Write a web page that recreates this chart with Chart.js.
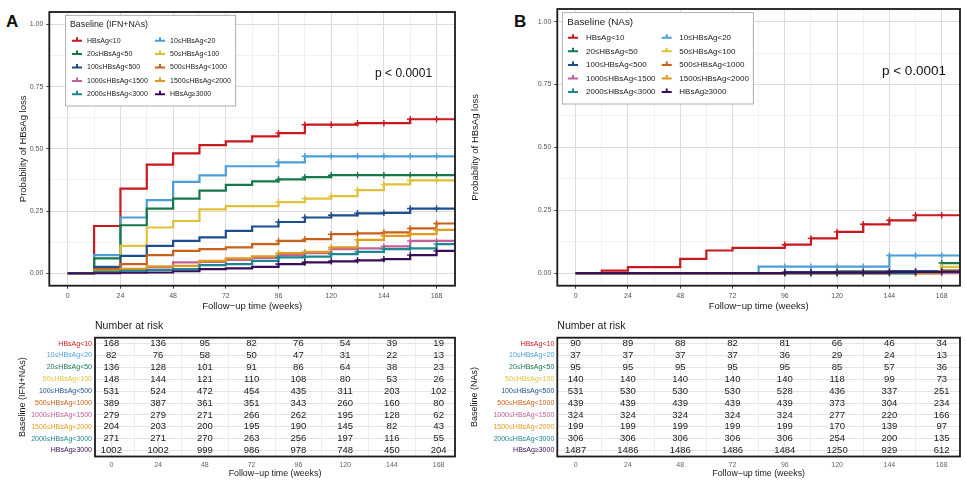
<!DOCTYPE html>
<html>
<head>
<meta charset="utf-8">
<script src="https://cdn.jsdelivr.net/npm/chart.js@4.4.0/dist/chart.umd.min.js"></script>
<style>
  body { margin: 0; background: #fff; width: 966px; height: 493px; position: relative; overflow: hidden;
         font-family: "Liberation Sans", Arial, sans-serif; }
  canvas { position: absolute; }
  .tag { position: absolute; font-weight: bold; font-size: 17px; color: #111; line-height: 20px; }
</style>
</head>
<body>
<div class="tag" style="left:6px;top:12px">A</div>
<div class="tag" style="left:514px;top:12px">B</div>
<canvas id="kmA" width="480" height="318" style="left:0;top:0"></canvas>
<canvas id="kmB" width="500" height="318" style="left:466px;top:0"></canvas>
<canvas id="riskA" width="480" height="181" style="left:0;top:312px"></canvas>
<canvas id="riskB" width="500" height="181" style="left:466px;top:312px"></canvas>
<script>
// groups (baseline HBsAg strata)
const groups = ['HBsAg<10', '10≤HBsAg<20', '20≤HBsAg<50', '50≤HBsAg<100', '100≤HBsAg<500',
  '500≤HBsAg<1000', '1000≤HBsAg<1500', '1500≤HBsAg<2000', '2000≤HBsAg<3000', 'HBsAg≥3000'];
// visit weeks where the curves can step
const weeks = [0, 12, 24, 36, 48, 60, 72, 84, 96, 108, 120, 132, 144, 156, 168];
const censorWeeks = [96, 108, 120, 132, 144, 156, 168];
const riskWeeks = [0, 24, 48, 72, 96, 120, 144, 168];
const probTicks = [0, 0.125, 0.25, 0.375, 0.5, 0.625, 0.75, 0.875, 1];

// cumulative probability of HBsAg loss at each week, IFN+NAs
const lossIFN = [
  [0, .19, .34, .437, .482, .515, .53, .55, .563, .597, .597, .603, .603, .619, .619],
  [0, .073, .224, .294, .367, .393, .43, .43, .446, .47, .47, .47, .47, .47, .47],
  [0, .06, .193, .26, .30, .332, .355, .369, .377, .386, .394, .394, .394, .394, .394],
  [0, .022, .11, .184, .21, .257, .27, .27, .286, .30, .31, .334, .357, .373, .373],
  [0, .026, .07, .11, .13, .144, .17, .188, .206, .224, .233, .241, .243, .26, .26],
  [0, .017, .037, .073, .09, .097, .104, .117, .13, .137, .157, .16, .164, .18, .2],
  [0, .005, .018, .024, .044, .046, .054, .062, .073, .081, .097, .1, .108, .13, .13],
  [0, .01, .017, .028, .03, .05, .06, .068, .081, .086, .104, .134, .15, .157, .174],
  [0, .006, .01, .013, .017, .033, .037, .05, .064, .067, .077, .086, .097, .1, .117],
  [0, 0, .002, .003, .008, .017, .02, .026, .037, .044, .048, .052, .057, .073, .09]
];
// NAs only
const lossNA = [
  [0, .01, .024, .024, .057, .09, .1, .1, .113, .138, .164, .194, .21, .23, .23],
  [0, 0, 0, 0, 0, 0, 0, .026, .026, .026, .026, .026, .07, .07, .07],
  [0, 0, 0, 0, 0, 0, 0, 0, 0, 0, 0, 0, 0, 0, .04],
  [0, 0, 0, 0, 0, 0, 0, 0, 0, 0, .008, .008, .008, .008, .025],
  [0, 0, 0, 0, 0, 0, 0, 0, .004, .004, .006, .006, .008, .008, .01],
  [0, 0, 0, 0, 0, 0, 0, 0, 0, 0, 0, 0, .002, .002, .002],
  [0, 0, 0, 0, 0, 0, 0, 0, 0, 0, 0, 0, 0, 0, 0],
  [0, 0, 0, 0, 0, 0, 0, 0, 0, 0, 0, 0, 0, 0, .01],
  [0, 0, 0, 0, 0, 0, 0, 0, 0, 0, 0, 0, 0, .005, .005],
  [0, 0, 0, 0, 0, 0, 0, 0, .002, .002, .002, .002, .004, .004, .006]
];

// number at risk
const riskIFN = [
  [168, 136, 95, 82, 76, 54, 39, 19],
  [82, 76, 58, 50, 47, 31, 22, 13],
  [136, 128, 101, 91, 86, 64, 38, 23],
  [148, 144, 121, 110, 108, 80, 53, 26],
  [531, 524, 472, 454, 435, 311, 203, 102],
  [389, 387, 361, 351, 343, 260, 160, 80],
  [279, 279, 271, 266, 262, 195, 128, 62],
  [204, 203, 200, 195, 190, 145, 82, 43],
  [271, 271, 270, 263, 256, 197, 116, 55],
  [1002, 1002, 999, 986, 978, 748, 450, 204]
];
const riskNA = [
  [90, 89, 88, 82, 81, 66, 46, 34],
  [37, 37, 37, 37, 36, 29, 24, 13],
  [95, 95, 95, 95, 95, 85, 57, 36],
  [140, 140, 140, 140, 140, 118, 99, 73],
  [531, 530, 530, 530, 528, 436, 337, 251],
  [439, 439, 439, 439, 439, 373, 304, 234],
  [324, 324, 324, 324, 324, 277, 220, 166],
  [199, 199, 199, 199, 199, 170, 139, 97],
  [306, 306, 306, 306, 306, 254, 200, 135],
  [1487, 1486, 1486, 1486, 1484, 1250, 929, 612]
];

const palette = ['#C8191E', '#4C9ED6', '#17784A', '#E2C13A', '#1D4F8E',
  '#C9611C', '#C2609A', '#E09A1E', '#1D8790', '#3A0E5A'];
const FONT = '"Liberation Sans", Arial, sans-serif';
const X_MIN = -8.4, X_MAX = 176.4;
Chart.defaults.font.family = FONT;
Chart.defaults.animation = false;

// thick black frame round the panel
const framePlugin = {
  id: 'frame',
  afterDraw(chart) {
    const a = chart.chartArea, c = chart.ctx;
    c.save();
    c.strokeStyle = '#1a1a1a';
    c.lineWidth = 1.8;
    c.strokeRect(a.left, a.top, a.right - a.left, a.bottom - a.top);
    c.restore();
  }
};

// two column legend in a box inside the panel
const boxLegend = {
  id: 'boxLegend',
  afterDatasetsDraw(chart, args, o) {
    if (!o || !o.title) return;
    const c = chart.ctx, a = chart.chartArea;
    const x0 = a.left + o.dx, y0 = a.top + o.dy;
    c.save();
    c.fillStyle = '#fff';
    c.fillRect(x0, y0, o.w, o.h);
    c.strokeStyle = '#9a9a9a';
    c.lineWidth = 0.8;
    c.strokeRect(x0, y0, o.w, o.h);
    c.fillStyle = '#1a1a1a';
    c.textBaseline = 'middle';
    c.font = o.titleSize + 'px ' + FONT;
    c.fillText(o.title, x0 + o.titleX, y0 + o.titleY);
    c.font = o.itemSize + 'px ' + FONT;
    groups.forEach((g, i) => {
      const col = i % 2, row = Math.floor(i / 2);
      const kx = x0 + o.keyX[col], ky = y0 + o.rowY + row * o.rowStep;
      c.strokeStyle = palette[i];
      c.lineWidth = 2;
      c.beginPath();
      c.moveTo(kx, ky); c.lineTo(kx + 10, ky);
      c.moveTo(kx + 5, ky - 3.5); c.lineTo(kx + 5, ky + 1);
      c.stroke();
      c.fillStyle = '#1a1a1a';
      c.fillText(g, x0 + o.textX[col], ky);
    });
    c.restore();
  }
};

// p-value text
const pLabel = {
  id: 'pLabel',
  afterDatasetsDraw(chart, args, o) {
    if (!o || !o.text) return;
    const a = chart.chartArea, c = chart.ctx;
    c.save();
    c.font = o.size + 'px ' + FONT;
    c.fillStyle = '#111';
    c.textBaseline = 'middle';
    c.fillText(o.text, a.left + o.fx * (a.right - a.left), a.top + o.fy * (a.bottom - a.top));
    c.restore();
  }
};

// numbers of the at-risk table + its heading
const riskText = {
  id: 'riskText',
  afterDatasetsDraw(chart) {
    const c = chart.ctx, a = chart.chartArea;
    c.save();
    c.font = '9.5px ' + FONT;
    c.fillStyle = '#1a1a1a';
    c.textAlign = 'center';
    c.textBaseline = 'middle';
    chart.data.datasets.forEach((ds, i) => {
      chart.getDatasetMeta(i).data.forEach((pt, j) => c.fillText(String(ds.data[j].n), pt.x, pt.y));
    });
    c.font = '10.5px ' + FONT;
    c.textAlign = 'left';
    c.fillText('Number at risk', a.left, a.top - 11.5);
    c.restore();
  }
};

const isMajorX = ctx => ctx.tick && ctx.tick.value % 24 === 0;
const isMajorY = ctx => ctx.tick && (ctx.tick.value * 4) % 1 === 0;

function kmChart(id, loss, pad, yWidth, yTitlePad, legend, pText) {
  const datasets = [];
  loss.forEach((vals, i) => {
    const pts = weeks.map((w, k) => ({ x: w, y: vals[k] }));
    pts.push({ x: X_MAX, y: vals[vals.length - 1] });
    datasets.push({
      label: groups[i], data: pts, stepped: 'before', borderColor: palette[i],
      borderWidth: 2.2, pointRadius: 0, fill: false, order: 40 - 2 * i
    });
    datasets.push({
      label: groups[i] + ' (censored)', showLine: false, pointStyle: 'cross', pointRadius: 3.2,
      borderColor: palette[i], borderWidth: 1.4, order: 39 - 2 * i,
      data: censorWeeks.map(w => ({ x: w, y: vals[weeks.indexOf(w)] }))
    });
  });
  return new Chart(document.getElementById(id), {
    type: 'line',
    data: { datasets },
    plugins: [framePlugin, boxLegend, pLabel],
    options: {
      responsive: false,
      layout: { padding: pad },
      plugins: { legend: { display: false }, tooltip: { enabled: false }, boxLegend: legend, pLabel: pText },
      scales: {
        x: {
          type: 'linear', min: X_MIN, max: X_MAX,
          afterBuildTicks: s => { s.ticks = weeks.map(v => ({ value: v })); },
          afterFit: s => { s.height = 32.3; },
          border: { display: false },
          grid: {
            color: c => isMajorX(c) ? '#dcdcdc' : '#eeeeee', lineWidth: c => isMajorX(c) ? 1 : 0.8,
            tickColor: c => isMajorX(c) ? '#444' : 'rgba(0,0,0,0)', tickLength: 3
          },
          ticks: { autoSkip: false, maxRotation: 0, padding: 3, color: '#555', font: { size: 7 },
            callback: v => v % 24 === 0 ? String(v) : '' },
          title: { display: true, text: 'Follow−up time (weeks)', color: '#1a1a1a', font: { size: 9.5 },
            padding: { top: 0, bottom: 6.3 } }
        },
        y: {
          min: -0.05, max: 1.05,
          afterBuildTicks: s => { s.ticks = probTicks.map(v => ({ value: v })); },
          afterFit: s => { s.width = yWidth; },
          border: { display: false },
          grid: {
            color: c => isMajorY(c) ? '#dcdcdc' : '#eeeeee', lineWidth: c => isMajorY(c) ? 1 : 0.8,
            tickColor: c => isMajorY(c) ? '#444' : 'rgba(0,0,0,0)', tickLength: 3
          },
          ticks: { autoSkip: false, padding: 3, color: '#555', font: { size: 7 },
            callback: v => (v * 4) % 1 === 0 ? v.toFixed(2) : '' },
          title: { display: true, text: 'Probability of HBsAg loss', color: '#1a1a1a', font: { size: 9.5 },
            padding: { top: yTitlePad, bottom: 0 } }
        }
      }
    }
  });
}

function riskChart(id, risk, pad, yWidth, yTitle, yTitlePad) {
  const datasets = risk.map((row, i) => ({
    label: groups[i], showLine: false, pointRadius: 0,
    data: riskWeeks.map((w, j) => ({ x: w, y: groups[i], n: row[j] }))
  }));
  return new Chart(document.getElementById(id), {
    type: 'line',
    data: { datasets },
    plugins: [framePlugin, riskText],
    options: {
      responsive: false,
      layout: { padding: pad },
      plugins: { legend: { display: false }, tooltip: { enabled: false } },
      scales: {
        x: {
          type: 'linear', min: X_MIN, max: X_MAX,
          afterBuildTicks: s => { s.ticks = weeks.map(v => ({ value: v })); },
          afterFit: s => { s.height = 36.5; },
          border: { display: false },
          grid: { drawTicks: false, color: c => isMajorX(c) ? '#e2e2e2' : '#efefef' },
          ticks: { autoSkip: false, maxRotation: 0, padding: 4.5, color: '#666', font: { size: 7 },
            callback: v => v % 24 === 0 ? String(v) : '' },
          title: { display: true, text: 'Follow−up time (weeks)', color: '#1a1a1a', font: { size: 8.8 },
            padding: { top: 0, bottom: 14.5 } }
        },
        y: {
          type: 'category', labels: groups, offset: true,
          afterFit: s => { s.width = yWidth; },
          border: { display: false },
          grid: { drawTicks: false, color: '#e4e4e4' },
          ticks: { autoSkip: false, padding: 3, font: { size: 7 }, color: c => palette[c.index] },
          title: { display: true, text: yTitle, color: '#1a1a1a', font: { size: 9 },
            padding: { top: yTitlePad, bottom: 0 } }
        }
      }
    }
  });
}

kmChart('kmA', lossIFN, { left: 10, top: 12, right: 25, bottom: 0 }, 39.3, 7.3,
  { title: 'Baseline (IFN+NAs)', dx: 16.4, dy: 3.3, w: 170, h: 90.7, titleSize: 8.8, itemSize: 7,
    titleX: 4.3, titleY: 9.7, rowY: 25.4, rowStep: 13.4, keyX: [6.3, 89.3], textX: [21.3, 104.3] },
  { text: 'p < 0.0001', size: 12, fx: 0.803, fy: 0.2265 });

kmChart('kmB', lossNA, { left: 0, top: 9, right: 6, bottom: 0 }, 91.3, 3.3,
  { title: 'Baseline (NAs)', dx: 5, dy: 3.7, w: 191, h: 91.3, titleSize: 9.9, itemSize: 8,
    titleX: 5, titleY: 9.3, rowY: 25, rowStep: 13.6, keyX: [5.7, 99.4], textX: [23.7, 117] },
  { text: 'p < 0.0001', size: 13.5, fx: 0.806, fy: 0.2266 });

riskChart('riskA', riskIFN, { left: 10, top: 25.7, right: 25, bottom: 0 }, 85, 'Baseline (IFN+NAs)', 7.6);
riskChart('riskB', riskNA, { left: 0, top: 25.7, right: 6, bottom: 0 }, 91.3, 'Baseline (NAs)', 3.6);
</script>
</body>
</html>
